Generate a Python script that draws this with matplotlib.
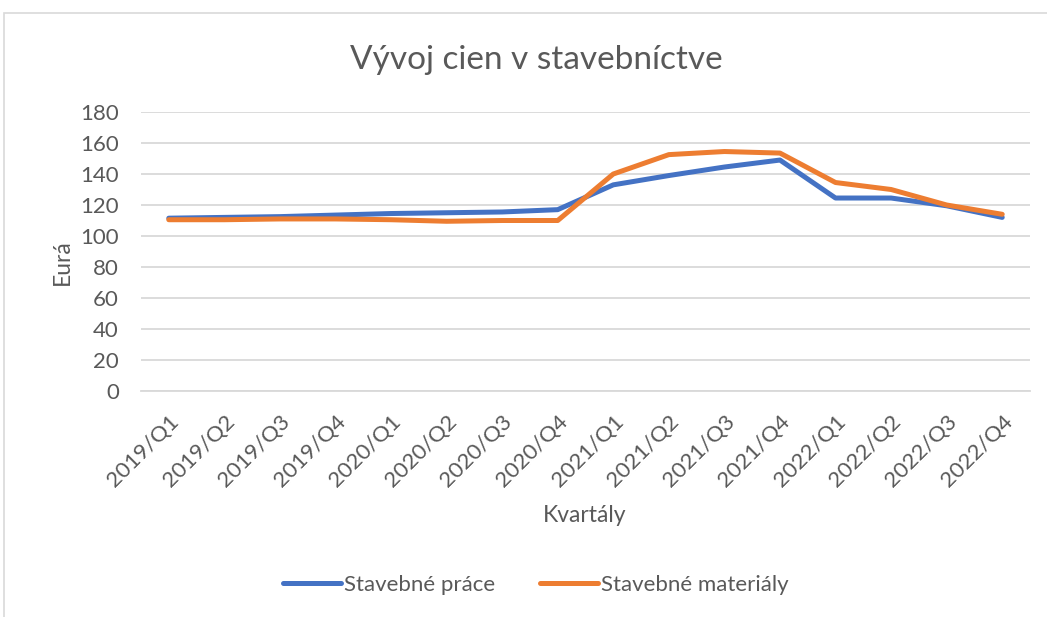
import matplotlib.pyplot as plt
from matplotlib.patches import Rectangle

# Quarterly price development
kvartaly = ['2019/Q1', '2019/Q2', '2019/Q3', '2019/Q4',
            '2020/Q1', '2020/Q2', '2020/Q3', '2020/Q4',
            '2021/Q1', '2021/Q2', '2021/Q3', '2021/Q4',
            '2022/Q1', '2022/Q2', '2022/Q3', '2022/Q4']
stavebne_prace = [111.5, 112, 112.5, 113.5, 114.5, 115, 115.5, 117,
                  133, 139, 144.5, 149, 124.5, 124.5, 119.5, 112]
stavebne_materialy = [110.5, 110.5, 111, 111, 110.5, 109.5, 110, 110,
                      140, 152.5, 154.5, 153.5, 134.5, 130, 120, 114]

W, H = 1047, 617
plt.rcParams['font.family'] = ['Lato', 'DejaVu Sans']
text_color = '#595959'
grid_color = '#d9d9d9'

fig = plt.figure(figsize=(W / 100, H / 100), dpi=100)
ax = fig.add_axes([141 / W, 1 - 391 / H, (1030 - 141) / W, (391 - 112) / H])

x = list(range(len(kvartaly)))
ax.plot(x, stavebne_prace, color='#4472C4', lw=3.6, solid_capstyle='round',
        solid_joinstyle='round', label='Stavebné práce')
ax.plot(x, stavebne_materialy, color='#ED7D31', lw=3.6, solid_capstyle='round',
        solid_joinstyle='round', label='Stavebné materiály')

ax.set_xlim(-0.5, len(kvartaly) - 0.5)
ax.set_ylim(0, 180)
ax.set_yticks(range(0, 181, 20))
ax.yaxis.grid(True, color=grid_color, lw=1.3)
ax.set_axisbelow(True)
for s in ['top', 'right', 'left']:
    ax.spines[s].set_visible(False)
ax.spines['bottom'].set_color(grid_color)
ax.spines['bottom'].set_linewidth(1.3)
ax.tick_params(axis='both', length=0, colors=text_color, labelsize=16)
ax.tick_params(axis='y', pad=16)

ax.set_xticks(x)
ax.set_xticklabels(kvartaly, rotation=45, ha='right', va='top',
                   rotation_mode='anchor')
ax.tick_params(axis='x', pad=15)

fig.text(536 / W, 1 - 60 / H, 'Vývoj cien v stavebníctve', ha='center',
         va='center', fontsize=24, color=text_color)
fig.text(62 / W, 1 - 262 / H, 'Eurá', ha='center', va='center',
         rotation=90, fontsize=16.5, color=text_color)
fig.text(585 / W, 1 - 516 / H, 'Kvartály', ha='center', va='center',
         fontsize=16.5, color=text_color)

fig.legend(loc='center', bbox_to_anchor=(536 / W, 1 - 585 / H), ncol=2,
           frameon=False, fontsize=16, labelcolor=text_color,
           handlelength=2.6, handletextpad=0.15, columnspacing=2.0)

# chart frame
fig.patches.append(Rectangle((4 / W, -0.1), 1.2, 1.1 - 13 / H,
                             transform=fig.transFigure, fill=False,
                             edgecolor='#d9d9d9', lw=1.2))

fig.savefig('out.png', dpi=100)
